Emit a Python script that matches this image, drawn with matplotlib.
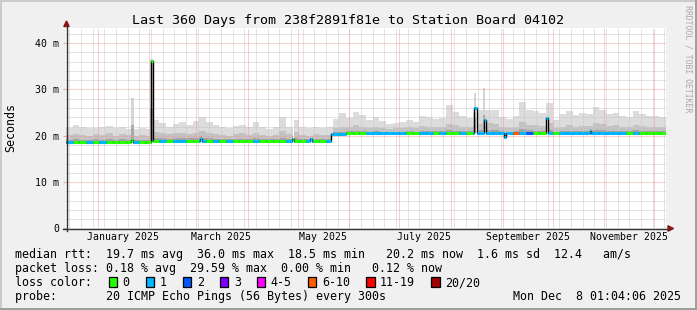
"""Smokeping style rtt graph, last 360 days."""
import datetime as dt
import numpy as np
import matplotlib
matplotlib.use('Agg')
import matplotlib.pyplot as plt
import matplotlib.dates as mdates
from matplotlib.patches import Rectangle, Polygon
from matplotlib.lines import Line2D
from matplotlib.collections import LineCollection

# Data.
end_time = dt.datetime(2025, 12, 8, 1, 4, 6)
span_days = 360
bin_days = 4  # smoke and loss are kept in 4 day bins

# top of the smoke (slowest ping) per bin, ms
smoke_top = [21.6, 22.3, 21.8, 21.6, 21.7, 21.9, 22.2, 21.6, 21.9, 21.5,
             21.4, 21.6, 21.5, 23.4, 22.8, 22.0, 22.6, 23.0, 22.4, 23.2,
             24.1, 23.0, 22.4, 21.8, 21.6, 22.1, 22.3, 21.9, 23.0, 21.8,
             21.5, 21.9, 24.1, 22.0, 23.4, 21.9, 21.6, 22.0, 21.7, 21.9,
             23.6, 24.9, 23.8, 25.2, 24.5, 23.4, 24.0, 23.2, 22.5, 22.8,
             23.0, 23.3, 22.9, 24.3, 24.0, 23.6, 23.8, 26.7, 25.2, 24.2,
             23.9, 25.0, 25.5, 25.6, 25.6, 24.0, 23.6, 24.2, 27.4, 25.5,
             25.3, 25.0, 27.0, 23.4, 24.6, 25.3, 24.4, 25.0, 24.6, 26.3,
             25.6, 24.8, 25.0, 24.3, 24.1, 25.3, 24.8, 24.2, 24.2, 24.0]
# top of the darker part of the smoke per bin, ms
smoke_mid = [20.2, 20.4, 20.1, 20.0, 20.3, 20.2, 20.5, 20.0, 20.3, 20.1,
             19.9, 20.2, 20.0, 20.8, 20.6, 20.3, 20.5, 20.7, 20.4, 20.6,
             21.0, 20.6, 20.3, 20.1, 20.0, 20.4, 20.5, 20.2, 20.7, 20.1,
             20.0, 20.2, 21.0, 20.3, 20.8, 20.2, 20.0, 20.3, 20.1, 20.2,
             21.6, 22.0, 21.8, 22.3, 22.0, 21.7, 21.9, 21.6, 21.4, 21.6,
             21.7, 21.8, 21.6, 22.1, 22.0, 21.8, 21.9, 22.6, 22.3, 21.9,
             21.8, 22.4, 22.6, 22.8, 22.5, 21.8, 21.7, 22.0, 23.0, 22.4,
             22.3, 22.2, 22.8, 21.7, 22.0, 22.3, 22.0, 22.2, 22.1, 22.8,
             22.5, 22.2, 22.3, 21.9, 21.8, 22.4, 22.2, 21.9, 21.9, 21.8]
# loss colour class per bin (index into loss_labels)
loss_class = [1, 0, 0, 1, 0, 1, 0, 0, 0, 0,
              1, 0, 0, 0, 1, 0, 1, 1, 0, 0,
              1, 0, 1, 0, 1, 0, 0, 0, 1, 0,
              0, 0, 0, 1, 0, 0, 1, 0, 0, 1,
              1, 1, 0, 0, 0, 1, 1, 1, 1, 1,
              1, 0, 0, 1, 1, 0, 1, 0, 0, 1,
              0, 1, 1, 1, 1, 1, 1, 5, 1, 2,
              0, 0, 1, 0, 1, 1, 1, 1, 1, 1,
              1, 1, 1, 1, 0, 1, 0, 0, 0, 0]

# median rtt as steps: day it starts (counted from graph start), value in ms
median_day = [0, 39.2, 40.0, 50.8, 52.0, 80.5, 81.8, 135.5, 136.5, 146.5,
              147.5, 158.8, 167.8, 245.0, 246.4, 250.5, 251.8, 262.5, 263.8,
              288.0, 289.4, 314.2, 315.2]
median_ms = [18.6, 19.0, 18.6, 36.2, 18.9, 19.4, 18.8, 19.3, 18.8, 19.3,
             18.8, 20.3, 20.5, 25.9, 20.5, 23.4, 20.5, 19.8, 20.5,
             23.8, 20.5, 21.1, 20.5]

# narrow smoke spikes
spike_day = [39.3, 50.8, 245.0, 250.3]
spike_ms = [28.1, 36.6, 29.3, 30.3]

loss_labels = ['0', '1', '2', '3', '4-5', '6-10', '11-19', '20/20']
loss_colors = ['#26ff00', '#00b8ff', '#0059ff', '#7e00ff',
               '#ff00ff', '#ff5e00', '#ff0000', '#a10000']

title = 'Last 360 Days from 238f2891f81e to Station Board 04102'
stat_rows = [
    'median rtt:  19.7 ms avg  36.0 ms max  18.5 ms min   20.2 ms now  1.6 ms sd  12.4   am/s',
    'packet loss: 0.18 % avg  29.59 % max  0.00 % min   0.12 % now',
    'loss color:',
    'probe:       20 ICMP Echo Pings (56 Bytes) every 300s',
]
stamp = 'Mon Dec  8 01:04:06 2025'

W, H = 697, 310
MONO = 'DejaVu Sans Mono'


def fx(px):
    return px / W


def fy(py):
    return 1 - py / H


def main():
    fig = plt.figure(figsize=(W / 100, H / 100), dpi=100, facecolor='#f0f0f0')

    # plot area in pixels: x 66..666, y 27.5..228.3
    ax = fig.add_axes([fx(66), fy(228.3), 600 / W, 200.8 / H])
    ax.set_facecolor('white')
    for s in ax.spines.values():
        s.set_visible(False)

    start_time = end_time - dt.timedelta(days=span_days)
    t1 = mdates.date2num(end_time)
    t0 = mdates.date2num(start_time)
    ax.set_xlim(t0, t1)
    ax.set_ylim(0, 43.4)

    # split the time range into pieces where neither bin nor median changes
    edges = np.arange(0, span_days + bin_days, bin_days)
    cuts = np.unique(np.concatenate([edges, median_day]))
    a = cuts[:-1]
    b = cuts[1:]
    bins = np.minimum((a // bin_days).astype(int), len(smoke_top) - 1)
    med = np.array(median_ms)[np.searchsorted(median_day, a, side='right') - 1]
    top = np.maximum(np.array(smoke_top)[bins], med)
    mid = np.minimum(np.maximum(np.array(smoke_mid)[bins], med + 0.3), top)
    lo = med - 0.35
    dark = med + 0.35 * (mid - med)

    # smoke, light on top, darker close to the median
    ax.bar(t0 + a, top - lo, width=b - a, bottom=lo, align='edge',
           color='#dcdcdc', linewidth=0, zorder=1)
    ax.bar(t0 + a, mid - lo, width=b - a, bottom=lo, align='edge',
           color='#c2c2c2', linewidth=0, zorder=1.1)
    ax.bar(t0 + a, dark - lo, width=b - a, bottom=lo, align='edge',
           color='#a2a2a2', linewidth=0, zorder=1.15)
    for d, v in zip(spike_day, spike_ms):
        base = median_ms[np.searchsorted(median_day, d - 1.5, side='right') - 1]
        ax.bar(t0 + d - 0.2, v - base, width=1.4, bottom=base, align='edge',
               color='#d6d6d6', linewidth=0, zorder=1.2)
        ax.bar(t0 + d - 0.2, (v - base) * 0.4, width=1.4, bottom=base,
               align='edge', color='#a8a8a8', linewidth=0, zorder=1.3)

    # grid on top of the smoke, 1px dots
    dots = (0, (1, 1))
    weeks = mdates.WeekdayLocator(byweekday=mdates.SU).tick_values(start_time, end_time)
    months = mdates.MonthLocator().tick_values(start_time, end_time)
    for w in weeks:
        if t0 < w < t1:
            ax.axvline(w, color='#c8c8c8', lw=0.72, ls=dots, zorder=2)
    for m in months:
        if t0 < m < t1:
            ax.axvline(m, color='#eea0a0', lw=0.72, ls=dots, zorder=2.1)
    for y in np.arange(2, 43, 2):
        if y % 10 == 0:
            ax.axhline(y, color='#eea0a0', lw=0.72, ls=dots, zorder=2.1)
        else:
            ax.axhline(y, color='#c8c8c8', lw=0.72, ls=dots, zorder=2)

    # median: black steps, coloured by loss on the flat parts
    ax.step(t0 + cuts, np.append(med, med[-1]), where='post',
            color='black', lw=1.0, zorder=3)
    segs = [[(t0 + x0, v), (t0 + x1, v)] for x0, x1, v in zip(a, b, med)]
    cols = [loss_colors[loss_class[i]] for i in bins]
    ax.add_collection(LineCollection(segs, colors=cols, linewidths=2.2,
                                     capstyle='butt', zorder=4))

    # ticks
    ax.set_yticks([0, 10, 20, 30, 40], labels=['0', '10 m', '20 m', '30 m', '40 m'])
    ax.tick_params(axis='y', length=2, width=0.72, color='#eea0a0', pad=2.8,
                   labelsize=7.1, labelfontfamily=MONO, labelcolor='#000000')
    ax.xaxis.set_major_locator(mdates.MonthLocator(bymonth=[1, 3, 5, 7, 9, 11],
                                                   bymonthday=16))
    ax.xaxis.set_major_formatter(mdates.DateFormatter('%B %Y'))
    ax.tick_params(axis='x', length=0, pad=2.6, labelsize=7.1,
                   labelfontfamily=MONO, labelcolor='#000000')

    # axes with arrows
    axis_col = '#333333'
    arrow_col = '#8f1414'
    fig.add_artist(Line2D([fx(66.5), fx(66.5)], [fy(231), fy(26)],
                          color=axis_col, lw=1.0))
    fig.add_artist(Line2D([fx(63), fx(668.5)], [fy(228.5), fy(228.5)],
                          color=axis_col, lw=1.0))
    fig.add_artist(Polygon([(fx(66.5), fy(21)), (fx(63.8), fy(26.5)),
                            (fx(69.2), fy(26.5))], closed=True,
                           color=arrow_col, transform=fig.transFigure))
    fig.add_artist(Polygon([(fx(673.5), fy(228.5)), (fx(668), fy(225.8)),
                            (fx(668), fy(231.2))], closed=True,
                           color=arrow_col, transform=fig.transFigure))

    # texts
    fig.text(fx(348), fy(24), title, ha='center', va='baseline',
             family=MONO, fontsize=9.6)
    fig.text(fx(11), fy(128), 'Seconds', rotation=90, ha='center', va='center',
             family=MONO, fontsize=8.4)
    fig.text(fx(688), fy(5), 'RRDTOOL / TOBI OETIKER', rotation=270,
             ha='center', va='top', family=MONO, fontsize=5.9, color='#a8a8a8')

    rows_y = [258.3, 272.2, 286.0, 299.8]
    for txt, yy in zip(stat_rows, rows_y):
        fig.text(fx(15), fy(yy), txt, ha='left', va='baseline',
                 family=MONO, fontsize=8.42)
    fig.text(fx(513), fy(rows_y[3]), stamp, ha='left', va='baseline',
             family=MONO, fontsize=8.42)

    # loss colour legend
    bx = 108.7
    for lab, col in zip(loss_labels, loss_colors):
        fig.add_artist(Rectangle((fx(bx), fy(286.5)), 8.5 / W, 9.5 / H,
                                 facecolor=col, edgecolor='black', lw=0.9,
                                 transform=fig.transFigure))
        fig.text(fx(bx + 14.0), fy(rows_y[2]), lab, ha='left', va='baseline',
                 family=MONO, fontsize=8.42)
        bx += 30 + len(lab) * 7.04

    # frame shading
    fig.add_artist(Rectangle((0, fy(2)), 1, 2 / H, color='#cbcbcb',
                             transform=fig.transFigure, lw=0))
    fig.add_artist(Rectangle((0, 0), 2 / W, 1, color='#cbcbcb',
                             transform=fig.transFigure, lw=0))
    fig.add_artist(Rectangle((0, 0), 1, 2.5 / H, color='#9f9f9f',
                             transform=fig.transFigure, lw=0))
    fig.add_artist(Rectangle((fx(695), 0), 2 / W, 1, color='#9f9f9f',
                             transform=fig.transFigure, lw=0))

    fig.savefig('out.png', dpi=100, facecolor=fig.get_facecolor())


if __name__ == '__main__':
    main()
